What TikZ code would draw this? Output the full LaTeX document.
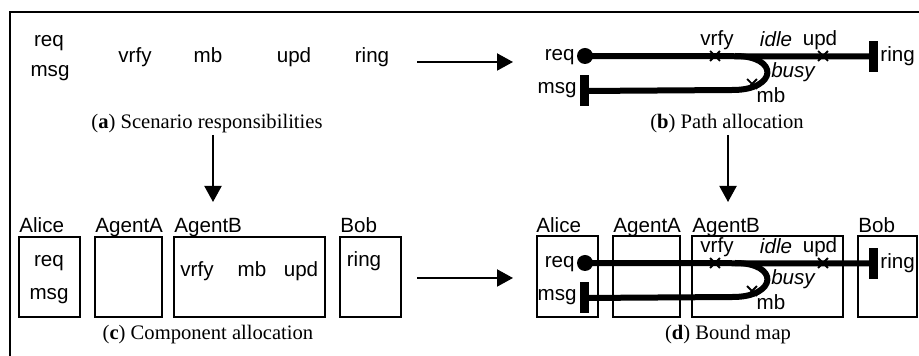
\documentclass[tikz,border=0pt]{standalone}
\usepackage{fontspec}
\setmainfont{Liberation Serif}
\setsansfont{Liberation Sans}
\usetikzlibrary{arrows.meta,shapes.misc}
\newcommand\pathmap[2]{%
\begin{scope}[yshift=-#2*0.5pt]
  \node[dot] (#1dot) at (585,56) {};
  \node[pbar] (#1rbar) at (873,56.5) {};
  \node[pbar] (#1mbar) at (584,91) {};
  \coordinate (#1fork) at (735,56);
  \coordinate (#1ret) at (733,90);
  \draw[pth] (#1dot.center) -- (#1rbar.center);
  \draw[pth] (#1fork) .. controls (780,56) and (777,90) .. (#1ret) -- (#1mbar.center);
  \node[xm] (#1xv) at (715,56) {};
  \node[xm] (#1xu) at (823,56) {};
  \node[xm] (#1xm) at (752,84) {};
  \node[lbl, anchor=base east] (#1req) at (575,61) {req};
  \node[lbl, anchor=base east] (#1msg) at (577,94) {msg};
  \node[lbl, anchor=base west] (#1ring) at (880,62) {ring};
  \node[lbl, anchor=base] (#1vrfy) at (717,46) {vrfy};
  \node[ital, anchor=base] (#1idle) at (776,47) {idle};
  \node[lbl, anchor=base] (#1upd) at (820,46) {upd};
  \node[ital, anchor=base] (#1busy) at (793,78) {busy};
  \node[lbl, anchor=base] (#1mb) at (771,103) {mb};
\end{scope}}
\begin{document}
\begin{tikzpicture}[x=0.5pt,y=-0.5pt,
  lbl/.style={font=\sffamily\fontsize{10.3}{12}\selectfont, inner sep=0pt},
  ital/.style={font=\sffamily\itshape\fontsize{10.3}{12}\selectfont, inner sep=0pt},
  captxt/.style={font=\rmfamily\fontsize{10.3}{12}\selectfont, inner sep=0pt, anchor=base},
  comp/.style={draw, line width=1pt, inner sep=0pt},
  arr/.style={line width=1pt, -{Triangle[length=8pt,width=8.5pt]}},
  pth/.style={line width=3pt},
  pbar/.style={fill=black, minimum width=4.5pt, minimum height=15.5pt, inner sep=0pt},
  dot/.style={circle, fill=black, minimum size=8pt, inner sep=0pt},
  xm/.style={cross out, draw, line width=0.9pt, minimum size=4pt, inner sep=0pt}
]
\useasboundingbox (0,0) rectangle (919,356);
\draw[line width=1pt] (10,356) -- (10,12) -- (919,12);

% (a)
\node[lbl, anchor=base] (areq) at (49,47) {req};
\node[lbl, anchor=base] (amsg) at (50,77) {msg};
\node[lbl, anchor=base] (avrfy) at (135,63) {vrfy};
\node[lbl, anchor=base] (amb) at (208,63) {mb};
\node[lbl, anchor=base] (aupd) at (294,63) {upd};
\node[lbl, anchor=base] (aring) at (372,63) {ring};
\node[captxt] (capa) at (207,129) {(\textbf{a}) Scenario responsibilities};

% (b)
\pathmap{b}{0}
\node[captxt] (capb) at (727,129) {(\textbf{b}) Path allocation};

% (c)
\node[comp, minimum width=30.5pt, minimum height=40pt] (cAlice) at (49.5,277) {};
\node[comp, minimum width=33.5pt, minimum height=40pt] (cAgentA) at (128.5,277) {};
\node[comp, minimum width=75.5pt, minimum height=40pt] (cAgentB) at (249.5,277) {};
\node[comp, minimum width=30.5pt, minimum height=40pt] (cBob) at (370.5,277) {};
\node[lbl, anchor=base west] (cAliceL) at (19,233) {Alice};
\node[lbl, anchor=base west] (cAgentAL) at (95,233) {AgentA};
\node[lbl, anchor=base west] (cAgentBL) at (174,233) {AgentB};
\node[lbl, anchor=base west] (cBobL) at (340,233) {Bob};
\node[lbl, anchor=base] (creq) at (49,267) {req};
\node[lbl, anchor=base] (cmsg) at (49,300) {msg};
\node[lbl, anchor=base] (cvrfy) at (197,277) {vrfy};
\node[lbl, anchor=base] (cmb) at (252,277) {mb};
\node[lbl, anchor=base] (cupd) at (301,277) {upd};
\node[lbl, anchor=base] (cring) at (364,267) {ring};
\node[captxt] (capc) at (208,340) {(\textbf{c}) Component allocation};

% (d)
\node[comp, minimum width=30.5pt, minimum height=40.5pt] (dAlice) at (567.5,276.5) {};
\node[comp, minimum width=33.5pt, minimum height=40.5pt] (dAgentA) at (646.5,276.5) {};
\node[comp, minimum width=75.5pt, minimum height=40.5pt] (dAgentB) at (767.5,276.5) {};
\node[comp, minimum width=29.5pt, minimum height=40.5pt] (dBob) at (887.5,276.5) {};
\node[lbl, anchor=base west] (dAliceL) at (536,233) {Alice};
\node[lbl, anchor=base west] (dAgentAL) at (613,233) {AgentA};
\node[lbl, anchor=base west] (dAgentBL) at (692,233) {AgentB};
\node[lbl, anchor=base west] (dBobL) at (858,233) {Bob};
\pathmap{d}{207}
\node[captxt] (capd) at (728,340) {(\textbf{d}) Bound map};

% arrows
\coordinate (ab1) at (417,62); \coordinate (ab2) at (513,62);
\coordinate (ac1) at (213,135); \coordinate (ac2) at (213,202);
\coordinate (bd1) at (728,135); \coordinate (bd2) at (728,202);
\coordinate (cd1) at (417,278); \coordinate (cd2) at (513,278);
\draw[arr] (ab1) -- (ab2);
\draw[arr] (ac1) -- (ac2);
\draw[arr] (bd1) -- (bd2);
\draw[arr] (cd1) -- (cd2);
\end{tikzpicture}
\end{document}
